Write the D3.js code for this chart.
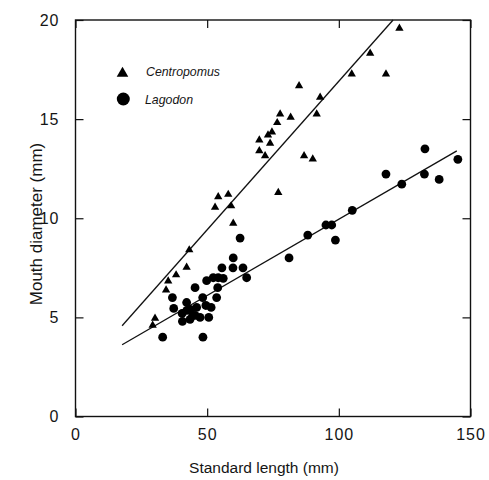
<!DOCTYPE html>
<html>
<head>
<meta charset="utf-8">
<script src="https://cdn.jsdelivr.net/npm/d3@7"></script>
<style>
  body { margin: 0; background: #fff; }
  text { font-family: "Liberation Sans", Arial, sans-serif; fill: #151515; }
</style>
</head>
<body>
<div class="canva"></div>
<script>
// Centropomus: [standard length, mouth diameter]
var centropomus = [
  [29.3, 4.6], [30.2, 4.95], [34.4, 6.38], [35.2, 6.83], [38.2, 7.14], [42.2, 7.52],
  [43.2, 8.4], [53.0, 10.55], [54.2, 11.08], [58.0, 11.2], [59.1, 10.62], [59.9, 9.74],
  [69.8, 13.4], [69.8, 13.94], [72.0, 13.15], [73.1, 14.2], [74.6, 14.35], [73.9, 13.78],
  [76.6, 14.82], [77.7, 15.25], [77.0, 11.29], [81.7, 15.09], [84.9, 16.68], [86.8, 13.15],
  [90.1, 12.99], [91.6, 15.25], [92.9, 16.1], [104.9, 17.27], [111.9, 18.32], [117.9, 17.27],
  [123.0, 19.58]
];

// Lagodon: [standard length, mouth diameter]
var lagodon = [
  [33.1, 4.0], [48.4, 4.0], [36.8, 6.0], [37.3, 5.45], [40.5, 5.2], [40.6, 4.8],
  [42.2, 5.75], [42.3, 5.35], [43.5, 4.9], [43.6, 5.4], [44.5, 5.1], [45.4, 6.5],
  [45.4, 5.1], [46.0, 5.5], [47.3, 5.0], [48.3, 6.0], [49.5, 5.6], [49.8, 6.85],
  [50.6, 5.0], [51.5, 5.5], [52.3, 7.0], [53.6, 6.0], [54.0, 6.5], [54.2, 7.0],
  [56.1, 6.97], [55.6, 7.5], [59.8, 7.5], [59.9, 8.0], [62.5, 9.0], [63.6, 7.5],
  [65.0, 7.0], [81.1, 8.0], [88.2, 9.15], [95.1, 9.66], [97.3, 9.66], [98.7, 8.9],
  [105.1, 10.4], [117.9, 12.23], [123.9, 11.72], [132.5, 12.23], [132.7, 13.5],
  [138.1, 11.96], [145.2, 12.97]
];

// regression lines, end points
var centropomusFit = [[17.7, 4.58], [120.6, 20]];
var lagodonFit = [[17.7, 3.62], [144.8, 13.4]];

var xTicks = [0, 50, 100, 150];
var yTicks = [0, 5, 10, 15, 20];
var species = ["Centropomus", "Lagodon"];

const svg = d3.select(".canva").append("svg")
              .attr("width", 489)
              .attr("height", 480);

var x = d3.scaleLinear().domain([0, 150]).range([75.5, 470.5]);
var y = d3.scaleLinear().domain([0, 20]).range([416.5, 20]);

// frame
svg.append("rect")
   .attr("x", x(0)).attr("y", y(20))
   .attr("width", x(150) - x(0)).attr("height", y(0) - y(20))
   .attr("fill", "none").attr("stroke", "#111").attr("stroke-width", 1.4);

function styleAxis(g) {
  g.select(".domain").remove();
  g.selectAll("line").attr("stroke", "#111").attr("stroke-width", 1.2);
  g.selectAll("text")
   .style("font-size", "16px")
   .style("letter-spacing", "1px")
   .attr("fill", "#151515");
}

svg.append("g")
   .attr("transform", `translate(0,${y(0)})`)
   .call(d3.axisBottom(x).tickValues(xTicks).tickSize(-8).tickPadding(12))
   .call(styleAxis);

svg.append("g")
   .attr("transform", `translate(0,${y(20)})`)
   .call(d3.axisTop(x).tickValues(xTicks).tickSize(-8).tickFormat(""))
   .call(styleAxis);

svg.append("g")
   .attr("transform", `translate(${x(0)},0)`)
   .call(d3.axisLeft(y).tickValues(yTicks).tickSize(-8).tickPadding(16))
   .call(styleAxis);

svg.append("g")
   .attr("transform", `translate(${x(150)},0)`)
   .call(d3.axisRight(y).tickValues(yTicks).tickSize(-8).tickFormat(""))
   .call(styleAxis);

// axis titles
svg.append("text")
   .attr("x", 264).attr("y", 473)
   .attr("text-anchor", "middle")
   .style("font-size", "15.5px")
   .text("Standard length (mm)");

svg.append("text")
   .attr("transform", "translate(42,224) rotate(-90)")
   .attr("text-anchor", "middle")
   .style("font-size", "17px")
   .text("Mouth diameter (mm)");

// fitted lines
var line = d3.line().x(d => x(d[0])).y(d => y(d[1]));

svg.append("path").attr("d", line(centropomusFit))
   .attr("fill", "none").attr("stroke", "#111").attr("stroke-width", 1.3);
svg.append("path").attr("d", line(lagodonFit))
   .attr("fill", "none").attr("stroke", "#111").attr("stroke-width", 1.3);

// points
var tri = d3.symbol().type(d3.symbolTriangle).size(30);

svg.selectAll(".tri")
   .data(centropomus)
   .enter()
   .append("path")
   .attr("class", "tri")
   .attr("d", tri)
   .attr("transform", d => `translate(${x(d[0])},${y(d[1])})`)
   .attr("fill", "#000");

svg.selectAll(".dot")
   .data(lagodon)
   .enter()
   .append("circle")
   .attr("class", "dot")
   .attr("cx", d => x(d[0]))
   .attr("cy", d => y(d[1]))
   .attr("r", 4.4)
   .attr("fill", "#000");

// legend
svg.append("path")
   .attr("d", d3.symbol().type(d3.symbolTriangle).size(58)())
   .attr("transform", "translate(122.5,73.5)")
   .attr("fill", "#000");
svg.append("circle")
   .attr("cx", 123.3).attr("cy", 99).attr("r", 6.5)
   .attr("fill", "#000");

svg.append("text")
   .attr("x", 146).attr("y", 75.5)
   .attr("textLength", 74).attr("lengthAdjust", "spacingAndGlyphs")
   .style("font-size", "13.5px").style("font-style", "italic")
   .text(species[0]);
svg.append("text")
   .attr("x", 145).attr("y", 103.5)
   .attr("textLength", 48).attr("lengthAdjust", "spacingAndGlyphs")
   .style("font-size", "13.5px").style("font-style", "italic")
   .text(species[1]);
</script>
</body>
</html>
